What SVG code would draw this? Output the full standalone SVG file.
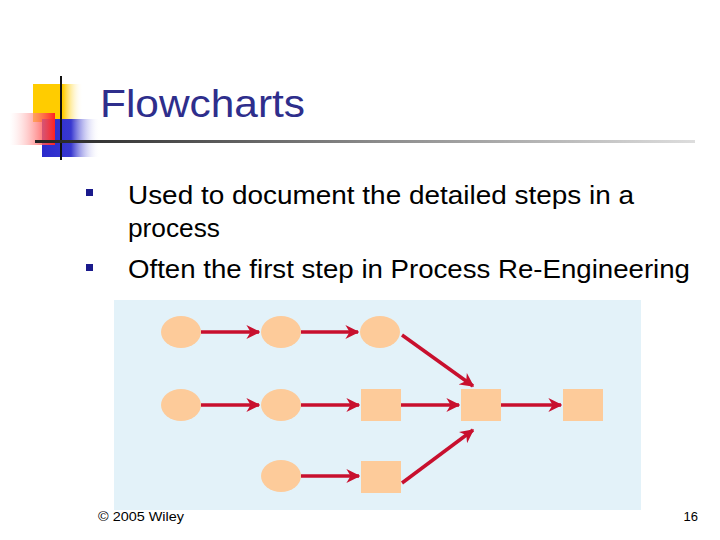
<svg xmlns="http://www.w3.org/2000/svg" width="720" height="540" viewBox="0 0 720 540">
<defs>
<linearGradient id="rg" x1="1" y1="0" x2="0" y2="0"><stop offset="0" stop-color="#ff2020"/><stop offset="1" stop-color="#ffffff" stop-opacity="0.3"/></linearGradient>
<linearGradient id="bg" x1="0" y1="0" x2="1" y2="0"><stop offset="0" stop-color="#2a2acc"/><stop offset="0.5" stop-color="#3838d0"/><stop offset="1" stop-color="#ffffff" stop-opacity="0"/></linearGradient>
<linearGradient id="yg" x1="0" y1="0" x2="1" y2="0"><stop offset="0.6" stop-color="#ffcc00"/><stop offset="1" stop-color="#ffffff" stop-opacity="0"/></linearGradient>
<linearGradient id="lg" x1="0" y1="0" x2="1" y2="0"><stop offset="0" stop-color="#222"/><stop offset="0.5" stop-color="#888"/><stop offset="1" stop-color="#ddd"/></linearGradient>
<marker id="ah" viewBox="0 0 10 10" refX="9" refY="5" markerWidth="4" markerHeight="4" orient="auto" markerUnits="strokeWidth"><path d="M0,0 L10,5 L0,10 L3,5 z" fill="#c8102e"/></marker>
<style>
.t{font-family:"Liberation Sans",Arial,sans-serif;fill:#000}
.n{fill:#fdcb9a}
.c{stroke:#c8102e;stroke-width:3.5;fill:none;marker-end:url(#ah)}
</style>
</defs>
<rect width="720" height="540" fill="#fff"/>
<g id="logo">
<rect x="33" y="84" width="50" height="38" fill="url(#yg)"/>
<rect x="42" y="119" width="58" height="38" fill="url(#bg)"/>
<rect x="10" y="113" width="45" height="32" fill="url(#rg)"/>
<line x1="61" y1="76" x2="61" y2="160" stroke="#111" stroke-width="2"/>
<rect x="35" y="140" width="660" height="3" fill="url(#lg)"/>
</g>
<text class="t" x="100" y="117" font-size="38" textLength="205" lengthAdjust="spacingAndGlyphs" style="fill:#2e2e8c">Flowcharts</text>
<g id="bullets" class="t" font-size="25">
<rect x="86" y="189" width="7" height="7" fill="#1a1a8c"/>
<rect x="86" y="264" width="7" height="7" fill="#1a1a8c"/>
<text x="128" y="204" textLength="506" lengthAdjust="spacingAndGlyphs">Used to document the detailed steps in a</text>
<text x="128" y="237" textLength="92" lengthAdjust="spacingAndGlyphs">process</text>
<text x="128" y="278" textLength="562" lengthAdjust="spacingAndGlyphs">Often the first step in Process Re-Engineering</text>
</g>
<rect x="114" y="300" width="527" height="210" fill="#e3f2f9"/>
<g id="n1"><ellipse class="n" cx="181" cy="332" rx="20" ry="16"/></g>
<g id="n2"><ellipse class="n" cx="281" cy="332" rx="20" ry="16"/></g>
<g id="n3"><ellipse class="n" cx="380" cy="332" rx="20" ry="16"/></g>
<g id="n4"><ellipse class="n" cx="181" cy="405" rx="20" ry="16"/></g>
<g id="n5"><ellipse class="n" cx="281" cy="405" rx="20" ry="16"/></g>
<g id="n6"><rect class="n" x="361" y="389" width="40" height="32"/></g>
<g id="n7"><rect class="n" x="461" y="389" width="40" height="32"/></g>
<g id="n8"><rect class="n" x="563" y="389" width="40" height="32"/></g>
<g id="n9"><ellipse class="n" cx="281" cy="476" rx="20" ry="16"/></g>
<g id="n10"><rect class="n" x="361" y="461" width="40" height="32"/></g>
<g id="connectors">
<line class="c" x1="201" y1="332" x2="259" y2="332"/>
<line class="c" x1="301" y1="332" x2="358" y2="332"/>
<line class="c" x1="402" y1="335" x2="473" y2="386"/>
<line class="c" x1="201" y1="405" x2="259" y2="405"/>
<line class="c" x1="301" y1="405" x2="359" y2="405"/>
<line class="c" x1="401" y1="405" x2="459" y2="405"/>
<line class="c" x1="501" y1="405" x2="561" y2="405"/>
<line class="c" x1="301" y1="476" x2="359" y2="476"/>
<line class="c" x1="402" y1="483" x2="473" y2="430"/>
</g>
<text class="t" x="98" y="521" font-size="13" textLength="86" lengthAdjust="spacingAndGlyphs">© 2005 Wiley</text>
<text class="t" x="698" y="521" font-size="13" text-anchor="end">16</text>
</svg>
